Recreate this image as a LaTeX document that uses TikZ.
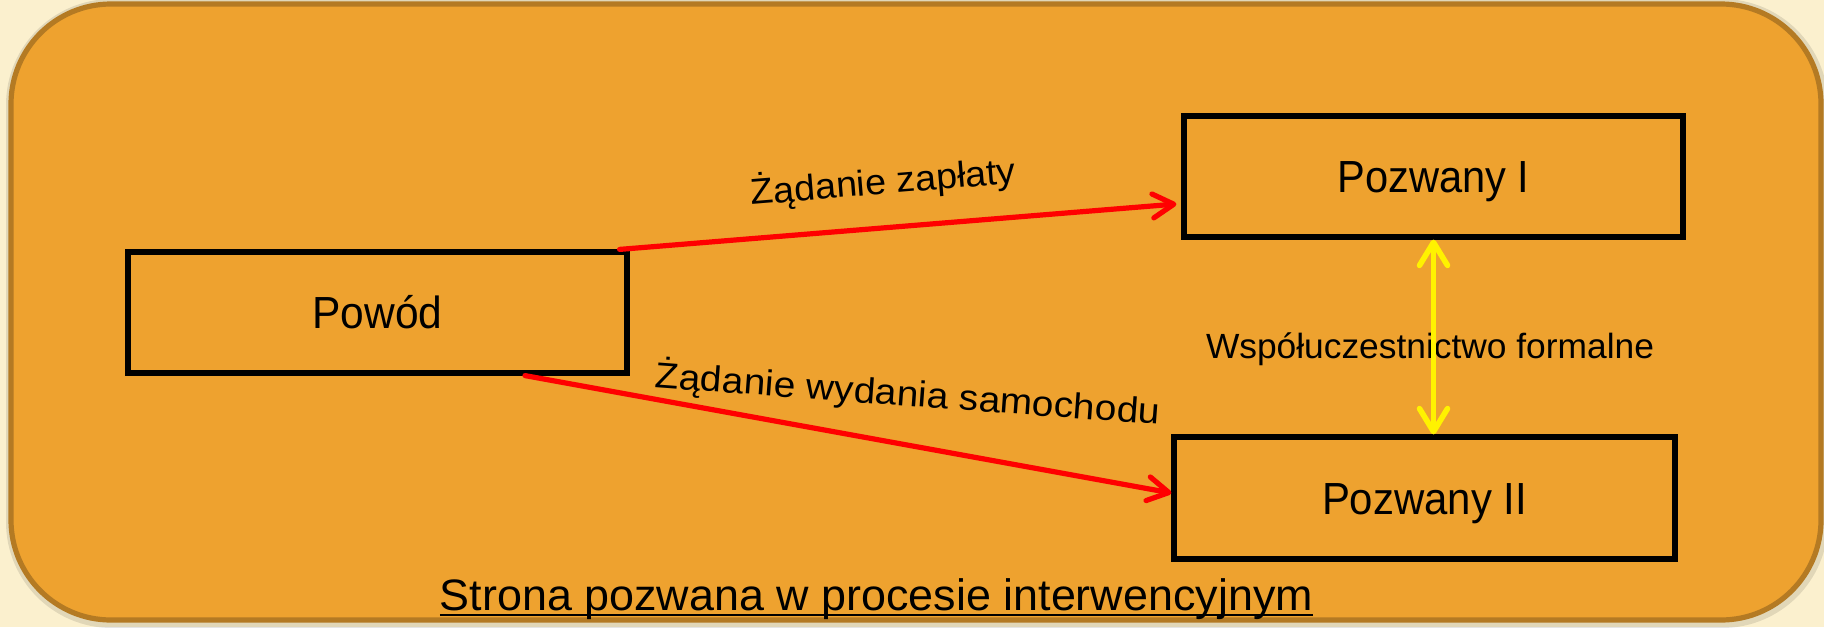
\documentclass[tikz,border=0pt]{standalone}
\usepackage{fontspec}
\setmainfont{Liberation Sans}
\usepackage{graphicx}
\usetikzlibrary{arrows.meta,calc}
\definecolor{bgcream}{HTML}{FBF0CE}
\definecolor{panel}{HTML}{EEA22F}
\definecolor{panelborder}{HTML}{B47A23}
\newcommand{\fitw}[2]{\resizebox{#1}{\height}{#2}}
\newcommand{\myul}[1]{\setbox0\hbox{#1}\rlap{\rule[-3pt]{\wd0}{1.1pt}}\box0}
\begin{document}
\begin{tikzpicture}[x=0.5pt,y=-0.5pt,
  partybox/.style={draw=black, line width=2.6pt, fill=panel, minimum width=249.5pt,
    minimum height=60.5pt, inner sep=0pt, text height=16pt, text depth=0pt,
    font=\fontsize{22.5}{27}\selectfont},
  edgelabel/.style={inner sep=0pt, anchor=base, font=\fontsize{18}{22}\selectfont},
  redarrow/.style={draw=red, line width=2.6pt, line cap=round,
    -{Straight Barb[length=10.5pt,width=12pt,round]}},
  yellowarrow/.style={draw=yellow, line width=2.8pt, line cap=round,
    {Straight Barb[length=11.5pt,width=14pt,round]}-{Straight Barb[length=11.5pt,width=14pt,round]}}
]
\useasboundingbox (0,0) rectangle (1824,627);
\fill[bgcream] (0,0) rectangle (1824,627);
% soft halo of the panel
\draw[black, opacity=0.10, line width=6pt, rounded corners=50pt] (12,5) rectangle (1822,622);
\draw[panelborder, line width=2.6pt, fill=panel, rounded corners=50pt] (11,4) rectangle (1821,620);

\node[partybox] (powod) at (377.5,312.5) {\fitw{65pt}{Powód}};
\node[partybox] (p1) at (1433.5,176.5) {\fitw{96pt}{Pozwany I}};
\node[partybox, minimum width=250.5pt, minimum height=61pt] (p2) at (1424.5,498) {\fitw{102.5pt}{Pozwany II}};

\node[edgelabel, rotate=4.7] (lz) at (884,194) {\fitw{133pt}{Żądanie zapłaty}};
\node[edgelabel, rotate=-4.2] (lw) at (907,406) {\fitw{253pt}{Żądanie wydania samochodu}};
\node[inner sep=0pt, anchor=base, font=\fontsize{17.5}{21}\selectfont] (lf) at (1430,358) {\fitw{224pt}{Współuczestnictwo formalne}};
\node[inner sep=0pt, anchor=base, font=\fontsize{22}{26}\selectfont] (title) at (876.5,610) {\fitw{436.5pt}{\myul{Strona pozwana w procesie interwencyjnym}}};

\draw[redarrow] ([xshift=-5pt]powod.north east) -- ([xshift=-2.5pt,yshift=-13.75pt]p1.west);
\draw[redarrow] ([xshift=73.75pt]powod.south) -- ([yshift=2.5pt]p2.west);
\draw[yellowarrow] (p1.south) -- (p1.south |- p2.north);
\end{tikzpicture}
\end{document}
